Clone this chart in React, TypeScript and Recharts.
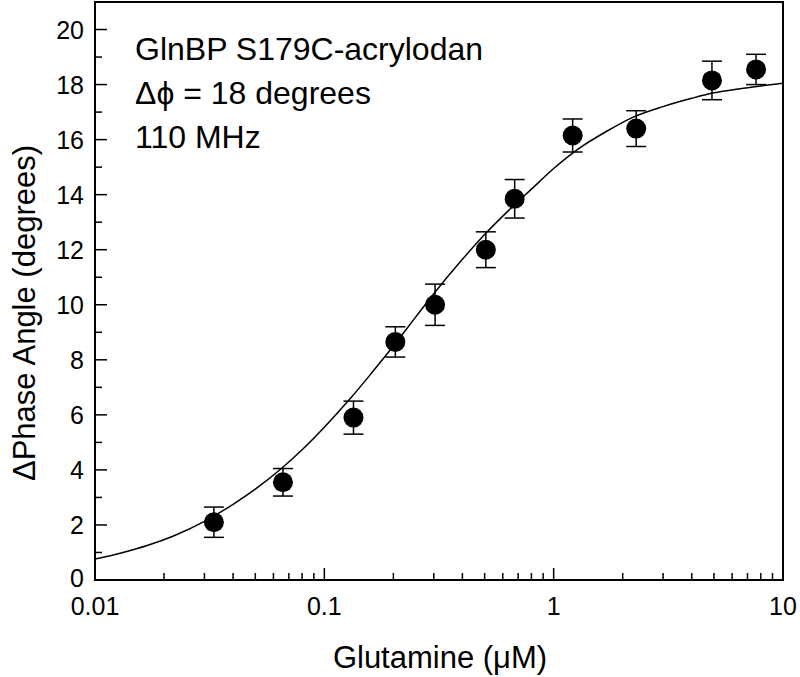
import React from 'react';
import {
  ComposedChart, Line, Scatter, ErrorBar, XAxis, YAxis, ReferenceArea,
} from 'recharts';

// measured points (glutamine in µM, phase angle change in degrees)
const CONC = [0.033, 0.066, 0.134, 0.204, 0.304, 0.506, 0.676, 1.21, 2.29, 4.9, 7.63];
const PHASE = [2.1, 3.55, 5.9, 8.65, 10.0, 12.0, 13.85, 16.15, 16.4, 18.15, 18.55];
const PHASE_ERR = [0.55, 0.5, 0.6, 0.55, 0.75, 0.65, 0.7, 0.6, 0.65, 0.7, 0.55];

// fitted curve
const FIT_X = [0.01, 0.013, 0.017, 0.022, 0.03, 0.04, 0.05, 0.065, 0.08, 0.1, 0.13, 0.16, 0.2, 0.25, 0.3, 0.4, 0.5, 0.65, 0.8, 1, 1.3, 1.7, 2.2, 3, 4, 5, 6.5, 8, 10];
const FIT_Y = [0.76, 0.98, 1.26, 1.6, 2.13, 2.75, 3.3, 4.05, 4.73, 5.55, 6.6, 7.5, 8.5, 9.55, 10.4, 11.65, 12.55, 13.5, 14.2, 14.95, 15.7, 16.3, 16.8, 17.2, 17.5, 17.7, 17.85, 17.95, 18.05];

const X_MAJOR = [0.01, 0.1, 1, 10];
const X_TICKS = [
  0.01, 0.02, 0.03, 0.04, 0.05, 0.06, 0.07, 0.08, 0.09,
  0.1, 0.2, 0.3, 0.4, 0.5, 0.6, 0.7, 0.8, 0.9,
  1, 2, 3, 4, 5, 6, 7, 8, 9, 10,
];
const Y_TICKS = [0, 1, 2, 3, 4, 5, 6, 7, 8, 9, 10, 11, 12, 13, 14, 15, 16, 17, 18, 19, 20, 21];

const NOTES = ['GlnBP S179C-acrylodan', 'Δϕ = 18 degrees', '110 MHz'];

const FONT = '"Liberation Sans", Arial, Helvetica, sans-serif';

const points = CONC.map((x, i) => ({ x, y: PHASE[i], err: PHASE_ERR[i] }));
const fit = FIT_X.map((x, i) => ({ x, y: FIT_Y[i] }));

function XTick(props: any) {
  const { x, y, payload } = props;
  const v = payload.value;
  const major = X_MAJOR.some(m => Math.abs(m - v) < 1e-9);
  return (
    <g>
      <line x1={x} x2={x} y1={y} y2={y - (major ? 12 : 7)} stroke="#000" strokeWidth={1.5} />
      {major && (
        <text x={x} y={y + 35} textAnchor="middle" fontSize={25} fontFamily={FONT} fill="#000">
          {String(v)}
        </text>
      )}
    </g>
  );
}

function YTick(props: any) {
  const { x, y, payload } = props;
  const v = payload.value;
  const major = v % 2 === 0;
  if (v > 20) return null;
  return (
    <g>
      <line x1={x} x2={x + (major ? 12 : 7)} y1={y} y2={y} stroke="#000" strokeWidth={1.5} />
      {major && (
        <text x={x - 11} y={y - (v === 0 ? 2 : 0)} textAnchor="end" dominantBaseline="central" fontSize={25} fontFamily={FONT} fill="#000">
          {v}
        </text>
      )}
    </g>
  );
}

function Dot(props: any) {
  const { cx, cy } = props;
  return <circle cx={cx} cy={cy} r={10} fill="#000" />;
}

export default function App() {
  return (
    <div style={{ position: 'absolute', left: 0, top: 0, width: 800, height: 677, background: '#fff' }}>
      <ComposedChart width={800} height={677} margin={{ top: 2, right: 17, left: 0, bottom: 0 }}>
        <XAxis
          dataKey="x"
          type="number"
          scale="log"
          domain={[0.01, 10]}
          ticks={X_TICKS}
          interval={0}
          allowDataOverflow
          height={97}
          tickSize={0}
          tickMargin={0}
          tick={<XTick />}
          axisLine={{ stroke: '#000', strokeWidth: 2 }}
          tickLine={false}
        />
        <YAxis
          type="number"
          domain={[0, 21]}
          ticks={Y_TICKS}
          interval={0}
          allowDataOverflow
          width={95}
          tickSize={0}
          tickMargin={0}
          tick={<YTick />}
          axisLine={{ stroke: '#000', strokeWidth: 2 }}
          tickLine={false}
        />
        <ReferenceArea x1={0.01} x2={10} y1={0} y2={21} fill="none" stroke="#000" strokeWidth={2} fillOpacity={0} />
        <Line
          data={fit}
          dataKey="y"
          type="monotone"
          stroke="#000"
          strokeWidth={1.5}
          dot={false}
          activeDot={false}
          isAnimationActive={false}
        />
        <Scatter data={points} dataKey="y" shape={<Dot />} isAnimationActive={false}>
          <ErrorBar dataKey="err" direction="y" width={10} stroke="#000" strokeWidth={1.5} />
        </Scatter>
      </ComposedChart>
      <svg
        width={800}
        height={677}
        style={{ position: 'absolute', left: 0, top: 0, pointerEvents: 'none' }}
        fontFamily={FONT}
      >
        {NOTES.map((t, i) => (
          <text key={t} x={135} y={60 + i * 44} fontSize={32} fill="#000">
            {t}
          </text>
        ))}
        <text
          x={24}
          y={313}
          fontSize={31}
          fill="#000"
          textAnchor="middle"
          dominantBaseline="central"
          transform="rotate(-90 24 313)"
        >
          ΔPhase Angle (degrees)
        </text>
        <text x={440} y={668} fontSize={31} fill="#000" textAnchor="middle">
          Glutamine (μM)
        </text>
      </svg>
    </div>
  );
}
